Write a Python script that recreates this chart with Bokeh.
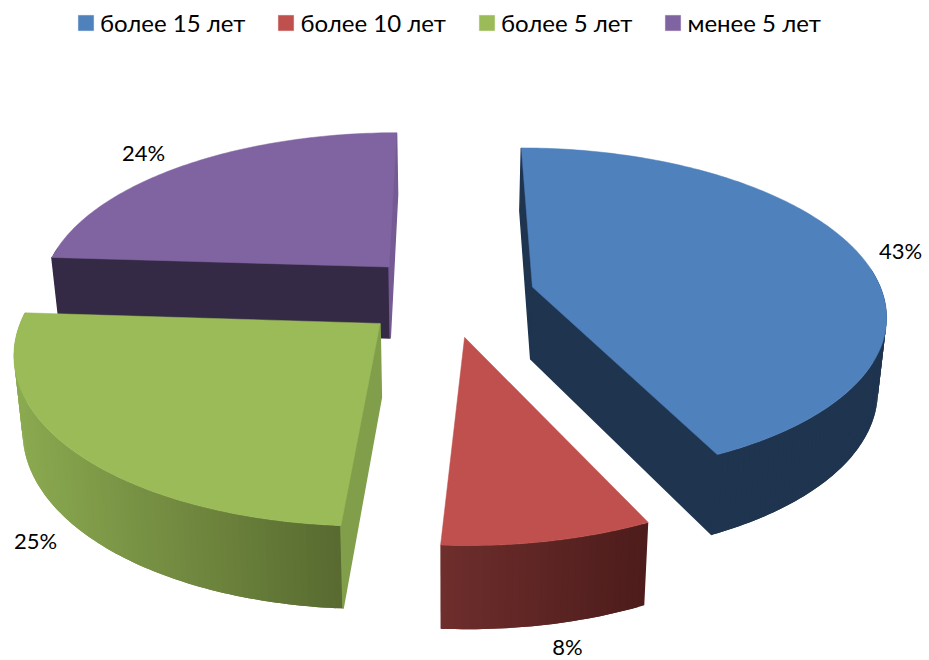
import math
from bokeh.plotting import figure
from bokeh.models import Range1d, Legend, LegendItem
from bokeh.core.properties import value
from bokeh.embed import file_html
from bokeh.resources import INLINE

categories = ["более 15 лет", "более 10 лет", "более 5 лет", "менее 5 лет"]
shares = [43, 8, 25, 24]
top_colors = ["#4F81BD", "#C0504D", "#9BBB59", "#8064A2"]
arc_left = ["#1F344F", "#6E2E2C", "#8BAA50", "#352A45"]
arc_right = ["#1F344F", "#4C1C1B", "#586A30", "#352A45"]
start_wall = ["#1F344F", None, "#819F4B", "#352A45"]
end_wall = ["#1F344F", None, None, "#755A93"]
label_pos = [(900, 250), (567, 646), (35, 540), (143, 152)]
draw_order = [3, 0, 2, 1]

FONT = "Lato"
X0, Y0, R, G, P = 447, 286.5, 348, 160, 0.15
EXPLODE, CY = 0.25, 0.055


def proj(x, y, low):
    w = 1 / (1 - P * y)
    X = R * x * w
    Y = Y0 + G * y * w
    if low:
        X *= 0.98
        Y += 72 + 9 * y
    return X0 + X, Y


def mix(a, b, t):
    ca = [int(a[i:i + 2], 16) for i in (1, 3, 5)]
    cb = [int(b[i:i + 2], 16) for i in (1, 3, 5)]
    return "#%02x%02x%02x" % tuple(round(u + (v - u) * t) for u, v in zip(ca, cb))


p = figure(width=929, height=660, x_range=Range1d(0, 929), y_range=Range1d(660, 0),
           output_backend="svg", toolbar_location=None, min_border=0, outline_line_color=None)
p.axis.visible = False
p.grid.visible = False

total = sum(shares)
angles = [0.0]
for s in shares:
    angles.append(angles[-1] + 2 * math.pi * s / total)

tops = {}
for i in draw_order:
    a, b = angles[i], angles[i + 1]
    mid = (a + b) / 2
    cx, cy = EXPLODE * math.sin(mid), CY - EXPLODE * math.cos(mid)
    n = max(12, int((b - a) * 60))
    rim = [(cx + math.sin(a + (b - a) * k / n), cy - math.cos(a + (b - a) * k / n)) for k in range(n + 1)]
    hi = [proj(x, y, False) for x, y in rim]
    lo = [proj(x, y, True) for x, y in rim]

    visible = [k for k in range(n) if math.cos(a + (b - a) * (k + .5) / n) < 0.12]
    if visible:
        xs_all = [hi[k][0] for k in visible] + [hi[visible[-1] + 1][0]]
        x_min, x_max = min(xs_all), max(xs_all)
        xs, ys, cols = [], [], []
        for k in visible:
            e = min(k + 2, n)  # each strip overlaps the next one, so no seams show
            xs.append([hi[k][0], hi[k + 1][0], hi[e][0], lo[e][0], lo[k + 1][0], lo[k][0]])
            ys.append([hi[k][1], hi[k + 1][1], hi[e][1], lo[e][1], lo[k + 1][1], lo[k][1]])
            t = ((hi[k][0] + hi[k + 1][0]) / 2 - x_min) / max(x_max - x_min, 1)
            cols.append(mix(arc_left[i], arc_right[i], t))
        p.patches(xs, ys, fill_color=cols, line_color=None)

    apex_hi, apex_lo = proj(cx, cy, False), proj(cx, cy, True)
    for wall, end in ((start_wall[i], 0), (end_wall[i], n)):
        if wall:
            p.patch([apex_hi[0], hi[end][0], lo[end][0], apex_lo[0]],
                    [apex_hi[1], hi[end][1], lo[end][1], apex_lo[1]],
                    fill_color=wall, line_color=wall, line_width=1.5)

    tops[i] = p.patch([apex_hi[0]] + [q[0] for q in hi], [apex_hi[1]] + [q[1] for q in hi],
                      fill_color=top_colors[i], line_color=top_colors[i], line_width=0.5)

p.text([q[0] for q in label_pos], [q[1] for q in label_pos], text=[f"{s}%" for s in shares],
       text_font=value(FONT), text_font_size="22px", text_color="#000000",
       text_align="center", text_baseline="middle")

legend = Legend(
    items=[LegendItem(label=categories[i], renderers=[tops[i]]) for i in range(4)],
    orientation="horizontal", location=(76, 623), margin=0, padding=0,
    spacing=31, label_standoff=5, glyph_width=19, glyph_height=19,
    label_text_font=FONT, label_text_font_size="24px", label_text_color="#000000",
    border_line_color=None, background_fill_alpha=0)
p.add_layout(legend)

open("out.html", "w").write(file_html(p, INLINE))
